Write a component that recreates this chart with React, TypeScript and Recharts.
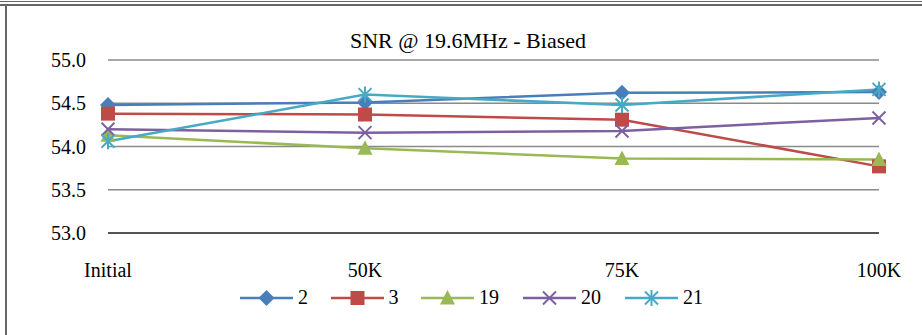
import React from 'react'
import { LineChart, Line, XAxis, YAxis, CartesianGrid } from 'recharts'

const categories = ['Initial', '50K', '75K', '100K']
const s2 = [54.48, 54.51, 54.62, 54.63]
const s3 = [54.38, 54.37, 54.31, 53.77]
const s19 = [54.13, 53.98, 53.86, 53.85]
const s20 = [54.2, 54.16, 54.18, 54.33]
const s21 = [54.06, 54.6, 54.48, 54.66]
const yTicks = [53, 53.5, 54, 54.5, 55]

const seriesList = [
  { key: '2', values: s2, color: '#4A7EBB', shape: 'diamond' },
  { key: '3', values: s3, color: '#BE4B48', shape: 'square' },
  { key: '19', values: s19, color: '#98B954', shape: 'triangle' },
  { key: '20', values: s20, color: '#7D60A0', shape: 'x' },
  { key: '21', values: s21, color: '#46AAC5', shape: 'star' },
]

const data = categories.map((c, i) => {
  const row: any = { name: c }
  seriesList.forEach((s) => (row[s.key] = s.values[i]))
  return row
})

const FONT = 'Liberation Serif, Times New Roman, Times, DejaVu Serif, serif'

function Marker({ cx, cy, shape, color }: { cx: number; cy: number; shape: string; color: string }) {
  if (shape === 'diamond') {
    return <polygon points={`${cx},${cy - 8} ${cx + 8},${cy} ${cx},${cy + 8} ${cx - 8},${cy}`} fill={color} />
  }
  if (shape === 'square') {
    return <rect x={cx - 7} y={cy - 7} width={14} height={14} fill={color} />
  }
  if (shape === 'triangle') {
    return <polygon points={`${cx},${cy - 8} ${cx + 7.5},${cy + 6.5} ${cx - 7.5},${cy + 6.5}`} fill={color} />
  }
  const d = 6.5
  return (
    <g stroke={color} strokeWidth={2}>
      <line x1={cx - d} y1={cy - d} x2={cx + d} y2={cy + d} />
      <line x1={cx - d} y1={cy + d} x2={cx + d} y2={cy - d} />
      {shape === 'star' && <line x1={cx} y1={cy - 8} x2={cx} y2={cy + 8} />}
    </g>
  )
}

const makeDot = (shape: string, color: string) => (props: any) => {
  const { cx, cy, index } = props
  if (cx == null || cy == null) return <g key={index} />
  return <Marker key={index} cx={cx} cy={cy} shape={shape} color={color} />
}

export default function App() {
  return (
    <div style={{ position: 'absolute', left: 0, top: 0, width: 922, height: 335, background: '#fff', fontFamily: FONT }}>
      <div style={{ position: 'absolute', left: 0, top: 1, width: 922, height: 1, background: '#666' }} />
      <div style={{ position: 'absolute', left: 0, top: 4, width: 922, height: 2, background: '#666' }} />
      <div style={{ position: 'absolute', left: 5, top: 5, width: 2, height: 330, background: '#666' }} />
      <div
        style={{
          position: 'absolute',
          left: 0,
          top: 28,
          width: 936,
          textAlign: 'center',
          fontSize: 22,
          color: '#000',
          fontFamily: FONT,
        }}
      >
        SNR @ 19.6MHz - Biased
      </div>
      <LineChart
        width={922}
        height={335}
        data={data}
        margin={{ top: 60, right: 43, left: 48, bottom: 72 }}
        style={{ fontFamily: FONT }}
      >
        <CartesianGrid vertical={false} stroke="#8a8a8a" strokeWidth={1.5} />
        <XAxis
          dataKey="name"
          tickLine={false}
          axisLine={{ stroke: '#000', strokeWidth: 1 }}
          tick={{ fill: '#000', fontSize: 20, fontFamily: FONT }}
          tickMargin={24}
          interval={0}
        />
        <YAxis
          domain={[53, 55]}
          ticks={yTicks}
          width={60}
          axisLine={false}
          tickLine={false}
          tickMargin={16}
          tickFormatter={(v: number) => v.toFixed(1)}
          tick={{ fill: '#000', fontSize: 20, fontFamily: FONT }}
        />
        {seriesList.map((s) => (
          <Line
            key={s.key}
            dataKey={s.key}
            stroke={s.color}
            strokeWidth={2.5}
            dot={makeDot(s.shape, s.color)}
            activeDot={false}
            isAnimationActive={false}
          />
        ))}
      </LineChart>
      <div
        style={{
          position: 'absolute',
          left: 240,
          top: 286,
          display: 'flex',
          alignItems: 'center',
          fontSize: 20,
          color: '#000',
          fontFamily: FONT,
        }}
      >
        {seriesList.map((s) => (
          <div key={s.key} style={{ display: 'flex', alignItems: 'center', marginRight: 21 }}>
            <svg width={53} height={20}>
              <line x1={0} y1={10} x2={53} y2={10} stroke={s.color} strokeWidth={2.5} />
              <Marker cx={26.5} cy={10} shape={s.shape} color={s.color} />
            </svg>
            <span style={{ marginLeft: 5, width: s.key.length * 11.5 }}>{s.key}</span>
          </div>
        ))}
      </div>
    </div>
  )
}
